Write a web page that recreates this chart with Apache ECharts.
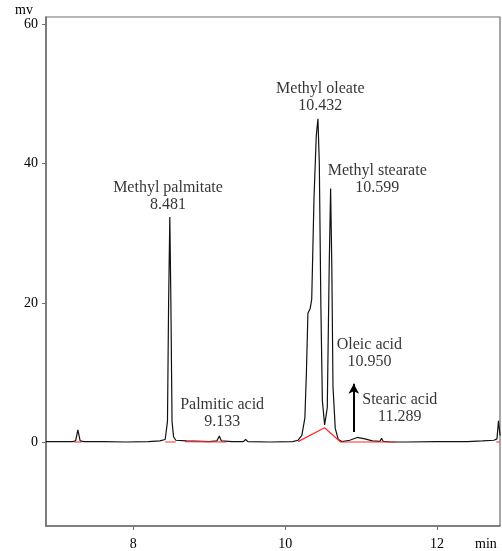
<!DOCTYPE html>
<html>
<head>
<meta charset="utf-8">
<script src="https://cdn.jsdelivr.net/npm/echarts@6/dist/echarts.min.js"></script>
<style>
  html, body { margin: 0; padding: 0; background: #fff; }
  #chart { width: 502px; height: 551px; }
</style>
</head>
<body>
<div id="chart"></div>
<script>
// Detector signal (mV) against retention time (min)
const retentionTime = [
  6.85, 7.20, 7.24, 7.27, 7.30, 7.35, 7.60, 7.90, 8.20, 8.35,
  8.42, 8.45, 8.465, 8.481, 8.495, 8.51, 8.53, 8.56, 8.70, 9.00,
  9.10, 9.133, 9.16, 9.30, 9.45, 9.48, 9.51, 9.80, 10.10, 10.17,
  10.22, 10.26, 10.28, 10.30, 10.33, 10.35, 10.38, 10.41, 10.432, 10.45,
  10.47, 10.49, 10.52, 10.555, 10.58, 10.599, 10.615, 10.63, 10.66, 10.70,
  10.75, 10.85, 10.95, 11.05, 11.15, 11.25, 11.27, 11.29, 11.40, 11.60,
  12.00, 12.40, 12.60, 12.75, 12.79, 12.81, 12.83
];
const signal = [
  0.1, 0.1, 0.2, 1.8, 0.2, 0.1, 0.1, 0.05, 0.1, 0.2,
  0.4, 3.0, 20.0, 32.3, 20.0, 3.0, 0.8, 0.3, 0.2, 0.1,
  0.2, 0.9, 0.2, 0.1, 0.1, 0.4, 0.1, 0.05, 0.1, 0.3,
  1.0, 3.5, 10.0, 18.5, 19.2, 20.5, 35.0, 44.0, 46.4, 40.0,
  20.0, 6.0, 2.5, 5.0, 25.0, 36.4, 25.0, 8.0, 2.0, 0.4,
  0.1, 0.3, 0.7, 0.5, 0.2, 0.15, 0.6, 0.15, 0.05, 0.05,
  0.1, 0.1, 0.2, 0.3, 0.5, 3.1, 1.0
];

// Integration baselines (null separates the segments)
const baselineTime = [7.22, 7.32, null, 8.42, 8.56, null, 8.68, 9.23, null, 10.17, 10.52, 10.73, 11.45, null, 12.78, 12.83];
const baselineLevel = [0.05, 0.05, null, 0.05, 0.05, null, 0.1, 0.05, null, 0.1, 2.1, 0.05, 0.05, null, 0.05, 0.05];

// Peak annotations
const peakNames = ['Methyl palmitate', 'Palmitic acid', 'Methyl oleate', 'Methyl stearate', 'Oleic acid', 'Stearic acid'];
const peakTimes = ['8.481', '9.133', '10.432', '10.599', '10.950', '11.289'];
const labelTime = [8.457, 9.17, 10.463, 11.213, 11.11, 11.51];
const labelLevel = [35.3, 4.23, 49.5, 37.7, 12.7, 4.83];

// Arrow pointing up at the oleic acid hump
const arrowTime = [10.904, 10.904];
const arrowLevel = [1.48, 8.4];

const xTicks = [8, 10, 12];
const yTicks = [0, 20, 40, 60];

const zip = (xs, ys) => xs.map((x, i) => (x === null ? [null, null] : [x, ys[i]]));

const serif = '"Liberation Serif", "DejaVu Serif", serif';
const chart = echarts.init(document.getElementById('chart'), null, { renderer: 'canvas' });

chart.setOption({
  animation: false,
  backgroundColor: '#fff',
  grid: {
    left: 46, right: 2, top: 17, bottom: 25,
    show: true, borderColor: '#6e6e6e', borderWidth: 1.2
  },
  xAxis: {
    type: 'value',
    min: 6.85, max: 12.83,
    name: 'min',
    nameLocation: 'end',
    nameGap: -25,
    nameTextStyle: { fontFamily: serif, fontSize: 14, color: '#000', align: 'left', verticalAlign: 'top', padding: [11, 0, 0, 0] },
    axisLine: { show: true, onZero: false, lineStyle: { color: '#6e6e6e', width: 1.5 } },
    axisTick: { show: true, length: 4, customValues: xTicks, lineStyle: { color: '#6e6e6e' } },
    axisLabel: { customValues: xTicks, fontFamily: serif, fontSize: 14, color: '#000', margin: 11 },
    splitLine: { show: false }
  },
  yAxis: {
    type: 'value',
    min: -12, max: 61,
    name: 'mv',
    nameLocation: 'end',
    nameGap: 0,
    nameTextStyle: { fontFamily: serif, fontSize: 14, color: '#000', align: 'right', verticalAlign: 'bottom', padding: [0, 13, -2, 0] },
    axisLine: { show: true, onZero: false, lineStyle: { color: '#6e6e6e', width: 1.5 } },
    axisTick: { show: true, length: 4, customValues: yTicks, lineStyle: { color: '#6e6e6e' } },
    axisLabel: { customValues: yTicks, fontFamily: serif, fontSize: 14, color: '#000', margin: 8 },
    splitLine: { show: false }
  },
  series: [
    {
      name: 'baseline',
      type: 'line',
      data: zip(baselineTime, baselineLevel),
      showSymbol: false,
      connectNulls: false,
      lineStyle: { color: '#ff2a2a', width: 1.2 },
      z: 3
    },
    {
      name: 'signal',
      type: 'line',
      data: zip(retentionTime, signal),
      showSymbol: false,
      lineStyle: { color: '#111', width: 1.2 },
      z: 2
    },
    {
      name: 'arrow',
      type: 'line',
      data: zip(arrowTime, arrowLevel),
      showSymbol: false,
      lineStyle: { width: 0 },
      markLine: {
        silent: true,
        symbol: ['none', 'arrow'],
        symbolSize: [8, 10],
        label: { show: false },
        lineStyle: { color: '#000', width: 2, type: 'solid' },
        data: [[{ coord: [arrowTime[0], arrowLevel[0]] }, { coord: [arrowTime[1], arrowLevel[1]] }]]
      }
    },
    {
      name: 'labels',
      type: 'scatter',
      symbolSize: 0,
      data: labelTime.map((t, i) => ({ value: [t, labelLevel[i]], name: peakNames[i], rt: peakTimes[i] })),
      label: {
        show: true,
        position: 'inside',
        formatter: p => p.name + '\n' + p.data.rt,
        fontFamily: serif,
        fontSize: 16,
        lineHeight: 17,
        color: '#000',
        align: 'center',
        verticalAlign: 'middle'
      },
      z: 5
    }
  ]
});
</script>
</body>
</html>
